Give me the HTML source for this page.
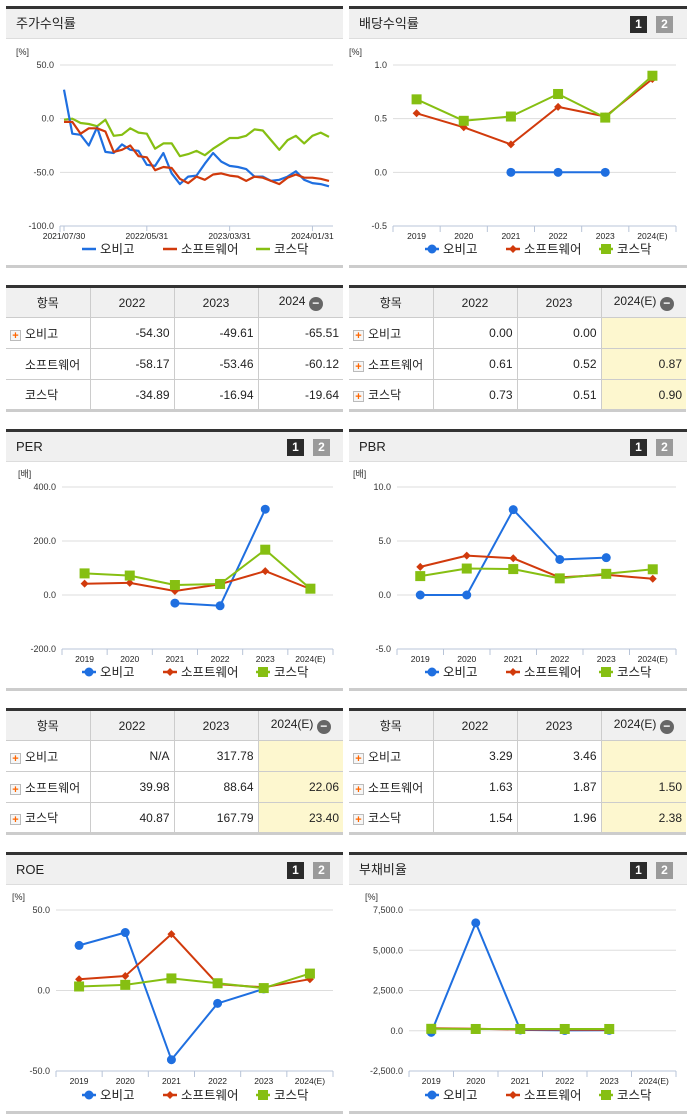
<!DOCTYPE html>
<html><head><meta charset="utf-8">
<style>
body{margin:0;width:691px;height:1115px;background:#fff;position:relative;font-family:"Liberation Sans","Noto Sans CJK KR",sans-serif;overflow:hidden}
.panel{position:absolute;border-top:3px solid #333;}
.hdr{position:absolute;left:0;right:0;top:0;height:30px;background:#f0f0f0;border-bottom:1px solid #ddd;font-size:13px;color:#222;line-height:30px;padding-left:10px;box-sizing:border-box}
.b1,.b2{position:absolute;top:7px;width:17px;height:17px;font:bold 12px "Liberation Sans",sans-serif;color:#fff;text-align:center;line-height:17px}
.b1{background:#2b2b2b}.b2{background:#9a9a9a}
.pbot{position:absolute;left:0;right:0;height:3px;background:#ccc}
table{position:absolute;border-collapse:collapse;font-size:12px;color:#222;border-top:3px solid #333;border-bottom:3px solid #ccc;table-layout:fixed}
td,th{border:1px solid #ccc;height:31px;padding:0 4px;box-sizing:border-box}
tr td:first-child,tr th:first-child{border-left:none}
tr td:last-child,tr th:last-child{border-right:none}
th{background:#f0f0f0;font-weight:normal;text-align:center}
td{text-align:right}
td.l{text-align:left;padding-left:4px}
.pl{display:inline-block;width:11px;height:11px;border:1px solid #bbb;background:#f6f6f6;color:#f60;font:bold 11px/10px "Liberation Sans",sans-serif;text-align:center;vertical-align:-1px;margin-right:4px;box-sizing:border-box}
.sp{display:inline-block;width:15px}
.mi{display:inline-block;width:14px;height:14px;border-radius:7px;background:#666;color:#fff;font:bold 12px/13px "Liberation Sans",sans-serif;text-align:center;vertical-align:-2px}
.y{background:#fdf7cf}
svg{position:absolute;left:0;top:0}
</style></head><body>

<div class="panel" style="left:6px;top:6px;width:337px;height:260px"><div class="hdr">주가수익률</div><div class="pbot" style="top:256px"></div></div>
<div class="panel" style="left:349px;top:6px;width:338px;height:260px"><div class="hdr">배당수익률</div><div class="b1" style="left:281px">1</div><div class="b2" style="left:307px">2</div><div class="pbot" style="top:256px"></div></div>

<div class="panel" style="left:6px;top:429px;width:337px;height:260px"><div class="hdr">PER</div><div class="b1" style="left:281px">1</div><div class="b2" style="left:307px">2</div><div class="pbot" style="top:256px"></div></div>
<div class="panel" style="left:349px;top:429px;width:338px;height:260px"><div class="hdr">PBR</div><div class="b1" style="left:281px">1</div><div class="b2" style="left:307px">2</div><div class="pbot" style="top:256px"></div></div>

<div class="panel" style="left:6px;top:852px;width:337px;height:260px"><div class="hdr">ROE</div><div class="b1" style="left:281px">1</div><div class="b2" style="left:307px">2</div><div class="pbot" style="top:256px"></div></div>
<div class="panel" style="left:349px;top:852px;width:338px;height:260px"><div class="hdr">부채비율</div><div class="b1" style="left:281px">1</div><div class="b2" style="left:307px">2</div><div class="pbot" style="top:256px"></div></div>

<table style="left:6px;top:285px;width:337px">
<colgroup><col style="width:84px"><col style="width:84px"><col style="width:84px"><col></colgroup>
<tr><th>항목</th><th>2022</th><th>2023</th><th>2024 <span class="mi">−</span></th></tr>
<tr><td class="l"><span class="pl">+</span>오비고</td><td>-54.30</td><td>-49.61</td><td>-65.51</td></tr>
<tr><td class="l"><span class="sp"></span>소프트웨어</td><td>-58.17</td><td>-53.46</td><td>-60.12</td></tr>
<tr><td class="l"><span class="sp"></span>코스닥</td><td>-34.89</td><td>-16.94</td><td>-19.64</td></tr>
</table>
<table style="left:349px;top:285px;width:337px">
<colgroup><col style="width:84px"><col style="width:84px"><col style="width:84px"><col></colgroup>
<tr><th>항목</th><th>2022</th><th>2023</th><th>2024(E) <span class="mi">−</span></th></tr>
<tr><td class="l"><span class="pl">+</span>오비고</td><td>0.00</td><td>0.00</td><td class="y"></td></tr>
<tr><td class="l"><span class="pl">+</span>소프트웨어</td><td>0.61</td><td>0.52</td><td class="y">0.87</td></tr>
<tr><td class="l"><span class="pl">+</span>코스닥</td><td>0.73</td><td>0.51</td><td class="y">0.90</td></tr>
</table>
<table style="left:6px;top:708px;width:337px">
<colgroup><col style="width:84px"><col style="width:84px"><col style="width:84px"><col></colgroup>
<tr><th>항목</th><th>2022</th><th>2023</th><th>2024(E) <span class="mi">−</span></th></tr>
<tr><td class="l"><span class="pl">+</span>오비고</td><td>N/A</td><td>317.78</td><td class="y"></td></tr>
<tr><td class="l"><span class="pl">+</span>소프트웨어</td><td>39.98</td><td>88.64</td><td class="y">22.06</td></tr>
<tr><td class="l"><span class="pl">+</span>코스닥</td><td>40.87</td><td>167.79</td><td class="y">23.40</td></tr>
</table>
<table style="left:349px;top:708px;width:337px">
<colgroup><col style="width:84px"><col style="width:84px"><col style="width:84px"><col></colgroup>
<tr><th>항목</th><th>2022</th><th>2023</th><th>2024(E) <span class="mi">−</span></th></tr>
<tr><td class="l"><span class="pl">+</span>오비고</td><td>3.29</td><td>3.46</td><td class="y"></td></tr>
<tr><td class="l"><span class="pl">+</span>소프트웨어</td><td>1.63</td><td>1.87</td><td class="y">1.50</td></tr>
<tr><td class="l"><span class="pl">+</span>코스닥</td><td>1.54</td><td>1.96</td><td class="y">2.38</td></tr>
</table>

<svg id="sv" width="691" height="1115"></svg>

<script>
const years=["2019","2020","2021","2022","2023","2024(E)"];
const seriesNames=["오비고","소프트웨어","코스닥"];
const colors=["#1f6fe0","#d13a0c","#86bf12"];
const stockXLabels=["2021/07/30","2022/05/31","2023/03/31","2024/01/31"];
const stockObigo=[27,-14,-15,-25,-8,-31,-32,-24,-29,-30,-43,-44,-32,-51,-61,-54,-53,-42,-32,-40,-44,-45,-47,-54,-54,-58,-57,-54,-49,-57,-60,-61,-63];
const stockSw=[-3,-3,-14,-9,-9,-12,-31,-29,-25,-35,-36,-48,-45,-46,-56,-60,-54,-57,-52,-51,-53,-54,-58,-54,-55,-58,-61,-55,-52,-55,-55,-56,-58];
const stockKosdaq=[-1,0,-4,-5,-7,-1,-16,-15,-9,-13,-14,-28,-23,-23,-35,-33,-30,-34,-28,-23,-18,-18,-16,-10,-11,-20,-29,-20,-16,-23,-16,-13,-17];
const stockTicks=[50,0,-50,-100];
const divObigo=[null,null,0,0,0,null];
const divSw=[0.55,0.42,0.26,0.61,0.52,0.87];
const divKosdaq=[0.68,0.48,0.52,0.73,0.51,0.90];
const divTicks=[1.0,0.5,0.0,-0.5];
const perObigo=[null,null,-30,-40,317.78,null];
const perSw=[42,45,15,39.98,88.64,22.06];
const perKosdaq=[80,72,37,40.87,167.79,23.40];
const perTicks=[400,200,0,-200];
const pbrObigo=[0,0,7.9,3.29,3.46,null];
const pbrSw=[2.6,3.65,3.4,1.63,1.87,1.50];
const pbrKosdaq=[1.75,2.45,2.4,1.54,1.96,2.38];
const pbrTicks=[10,5,0,-5];
const roeObigo=[28,36,-43,-8,1,null];
const roeSw=[7,9,35,4,2,7];
const roeKosdaq=[2.5,3.5,7.5,4.5,1.5,10.5];
const roeTicks=[50,0,-50];
const debtObigo=[-100,6700,50,20,30,null];
const debtSw=[150,120,80,70,60,null];
const debtKosdaq=[120,110,110,110,110,null];
const debtTicks=[7500,5000,2500,0,-2500];

const NS="http://www.w3.org/2000/svg";
const sv=document.getElementById('sv');
function el(t,a,p){const e=document.createElementNS(NS,t);for(const k in a)e.setAttribute(k,a[k]);(p||sv).appendChild(e);return e;}
function fmt(v,dec){let s=Math.abs(v).toFixed(1);if(dec){s=Number(Math.abs(v).toFixed(1)).toLocaleString('en-US',{minimumFractionDigits:1});}return (v<0?'-':'')+s;}
function marker(g,k,x,y,c){
  if(k===0){const m=el('circle',{cx:x,cy:y,r:4.5,fill:c},g);}
  else if(k===1){const m=el('polygon',{points:`${x},${y-4} ${x+4},${y} ${x},${y+4} ${x-4},${y}`,fill:c},g);}
  else {const m=el('rect',{x:x-5,y:y-5,width:10,height:10,fill:c},g);}
}
function chart(o){
  const g=el('g',{});
  
  
  const yMax=o.ticks[0],yMin=o.ticks[o.ticks.length-1];
  const Y=v=>o.yTop+(yMax-v)/(yMax-yMin)*(o.yBot-o.yTop);
  const u=el('text',{x:o.x0-44,y:o.yTop-10,'font-size':9,fill:'#333'},g);u.textContent=o.unit;
  
  o.ticks.forEach(t=>{
    const yy=Y(t);
    if(t!==yMin){const l=el('line',{x1:o.x0,x2:o.x1,y1:yy,y2:yy,stroke:'#ddd'},g);}
    const tx=el('text',{x:o.x0-6,y:yy+3,'font-size':9,fill:'#333','text-anchor':'end'},g);tx.textContent=fmt(t,o.comma);
    
  });
  const ax=el('line',{x1:o.x0,x2:o.x1,y1:o.yBot,y2:o.yBot,stroke:'#b8c4d8'},g);
  
  el('line',{x1:o.x0,x2:o.x0,y1:o.yBot,y2:o.yBot+6,stroke:'#b8c4d8'},g);
  let X;
  if(o.cats){
    const n=o.cats.length,w=(o.x1-o.x0)/n;
    X=i=>o.x0+w*(i+0.5);
    o.cats.forEach((c,i)=>{
      el('line',{x1:o.x0+w*(i+1),x2:o.x0+w*(i+1),y1:o.yBot,y2:o.yBot+6,stroke:'#b8c4d8'},g);
      const t=el('text',{x:X(i),y:o.yBot+13,'font-size':8.5,fill:'#222','text-anchor':'middle'},g);t.textContent=c;
      
    });
  } else {
    const n=o.series[0].length;
    X=i=>o.px0+(o.px1-o.px0)*i/(n-1);
    o.xLabels.forEach((c,j)=>{
      const xi=j*10;const xx=X(xi);
      el('line',{x1:xx,x2:xx,y1:o.yBot,y2:o.yBot+5,stroke:'#b8c4d8'},g);
      const t=el('text',{x:xx,y:o.yBot+13,'font-size':8.5,fill:'#222','text-anchor':'middle'},g);t.textContent=c;
      
    });
  }
  const order=o.order||[0,1,2];
  order.forEach(k=>{
    const s=o.series[k];let d='';let pen=false;
    s.forEach((v,i)=>{if(v===null){pen=false;return;}d+=(pen?'L':'M')+X(i).toFixed(1)+','+Y(v).toFixed(1);pen=true;});
    const p=el('path',{d,fill:'none',stroke:colors[k],'stroke-width':o.cats?2:2.2,'stroke-linejoin':'round'},g);
    
    if(o.cats)s.forEach((v,i)=>{if(v!==null)marker(g,k,X(i),Y(v),colors[k]);});
  });
  const lx=[o.legX,o.legX+81,o.legX+174];
  seriesNames.forEach((nm,k)=>{
    const lg=el('g',{},g);
    
    el('line',{x1:lx[k],x2:lx[k]+14,y1:o.legY,y2:o.legY,stroke:colors[k],'stroke-width':2.5},lg);
    if(o.cats)marker(lg,k,lx[k]+7,o.legY,colors[k]);
    const t=el('text',{x:lx[k]+18,y:o.legY+4.5,'font-size':12.5,fill:'#222'},lg);t.textContent=nm;
  });
}
chart({name:'stock-return-chart',unit:'[%]',ticks:stockTicks,yTop:65,yBot:226,x0:60,x1:333,px0:64,px1:329,xLabels:stockXLabels,series:[stockObigo,stockSw,stockKosdaq],order:[2,0,1],legX:82,legY:249});
chart({name:'dividend-chart',unit:'[%]',ticks:divTicks,yTop:65,yBot:226,x0:393,x1:676,cats:years,series:[divObigo,divSw,divKosdaq],order:[0,1,2],legX:425,legY:249});
chart({name:'per-chart',unit:'[배]',ticks:perTicks,yTop:487,yBot:649,x0:62,x1:333,cats:years,series:[perObigo,perSw,perKosdaq],order:[0,1,2],legX:82,legY:672});
chart({name:'pbr-chart',unit:'[배]',ticks:pbrTicks,yTop:487,yBot:649,x0:397,x1:676,cats:years,series:[pbrObigo,pbrSw,pbrKosdaq],order:[0,1,2],legX:425,legY:672});
chart({name:'roe-chart',unit:'[%]',ticks:roeTicks,yTop:910,yBot:1071,x0:56,x1:333,cats:years,series:[roeObigo,roeSw,roeKosdaq],order:[0,1,2],legX:82,legY:1095});
chart({name:'debt-ratio-chart',unit:'[%]',ticks:debtTicks,yTop:910,yBot:1071,x0:409,x1:676,cats:years,series:[debtObigo,debtSw,debtKosdaq],order:[0,1,2],legX:425,legY:1095,comma:true});
</script>
</body></html>
